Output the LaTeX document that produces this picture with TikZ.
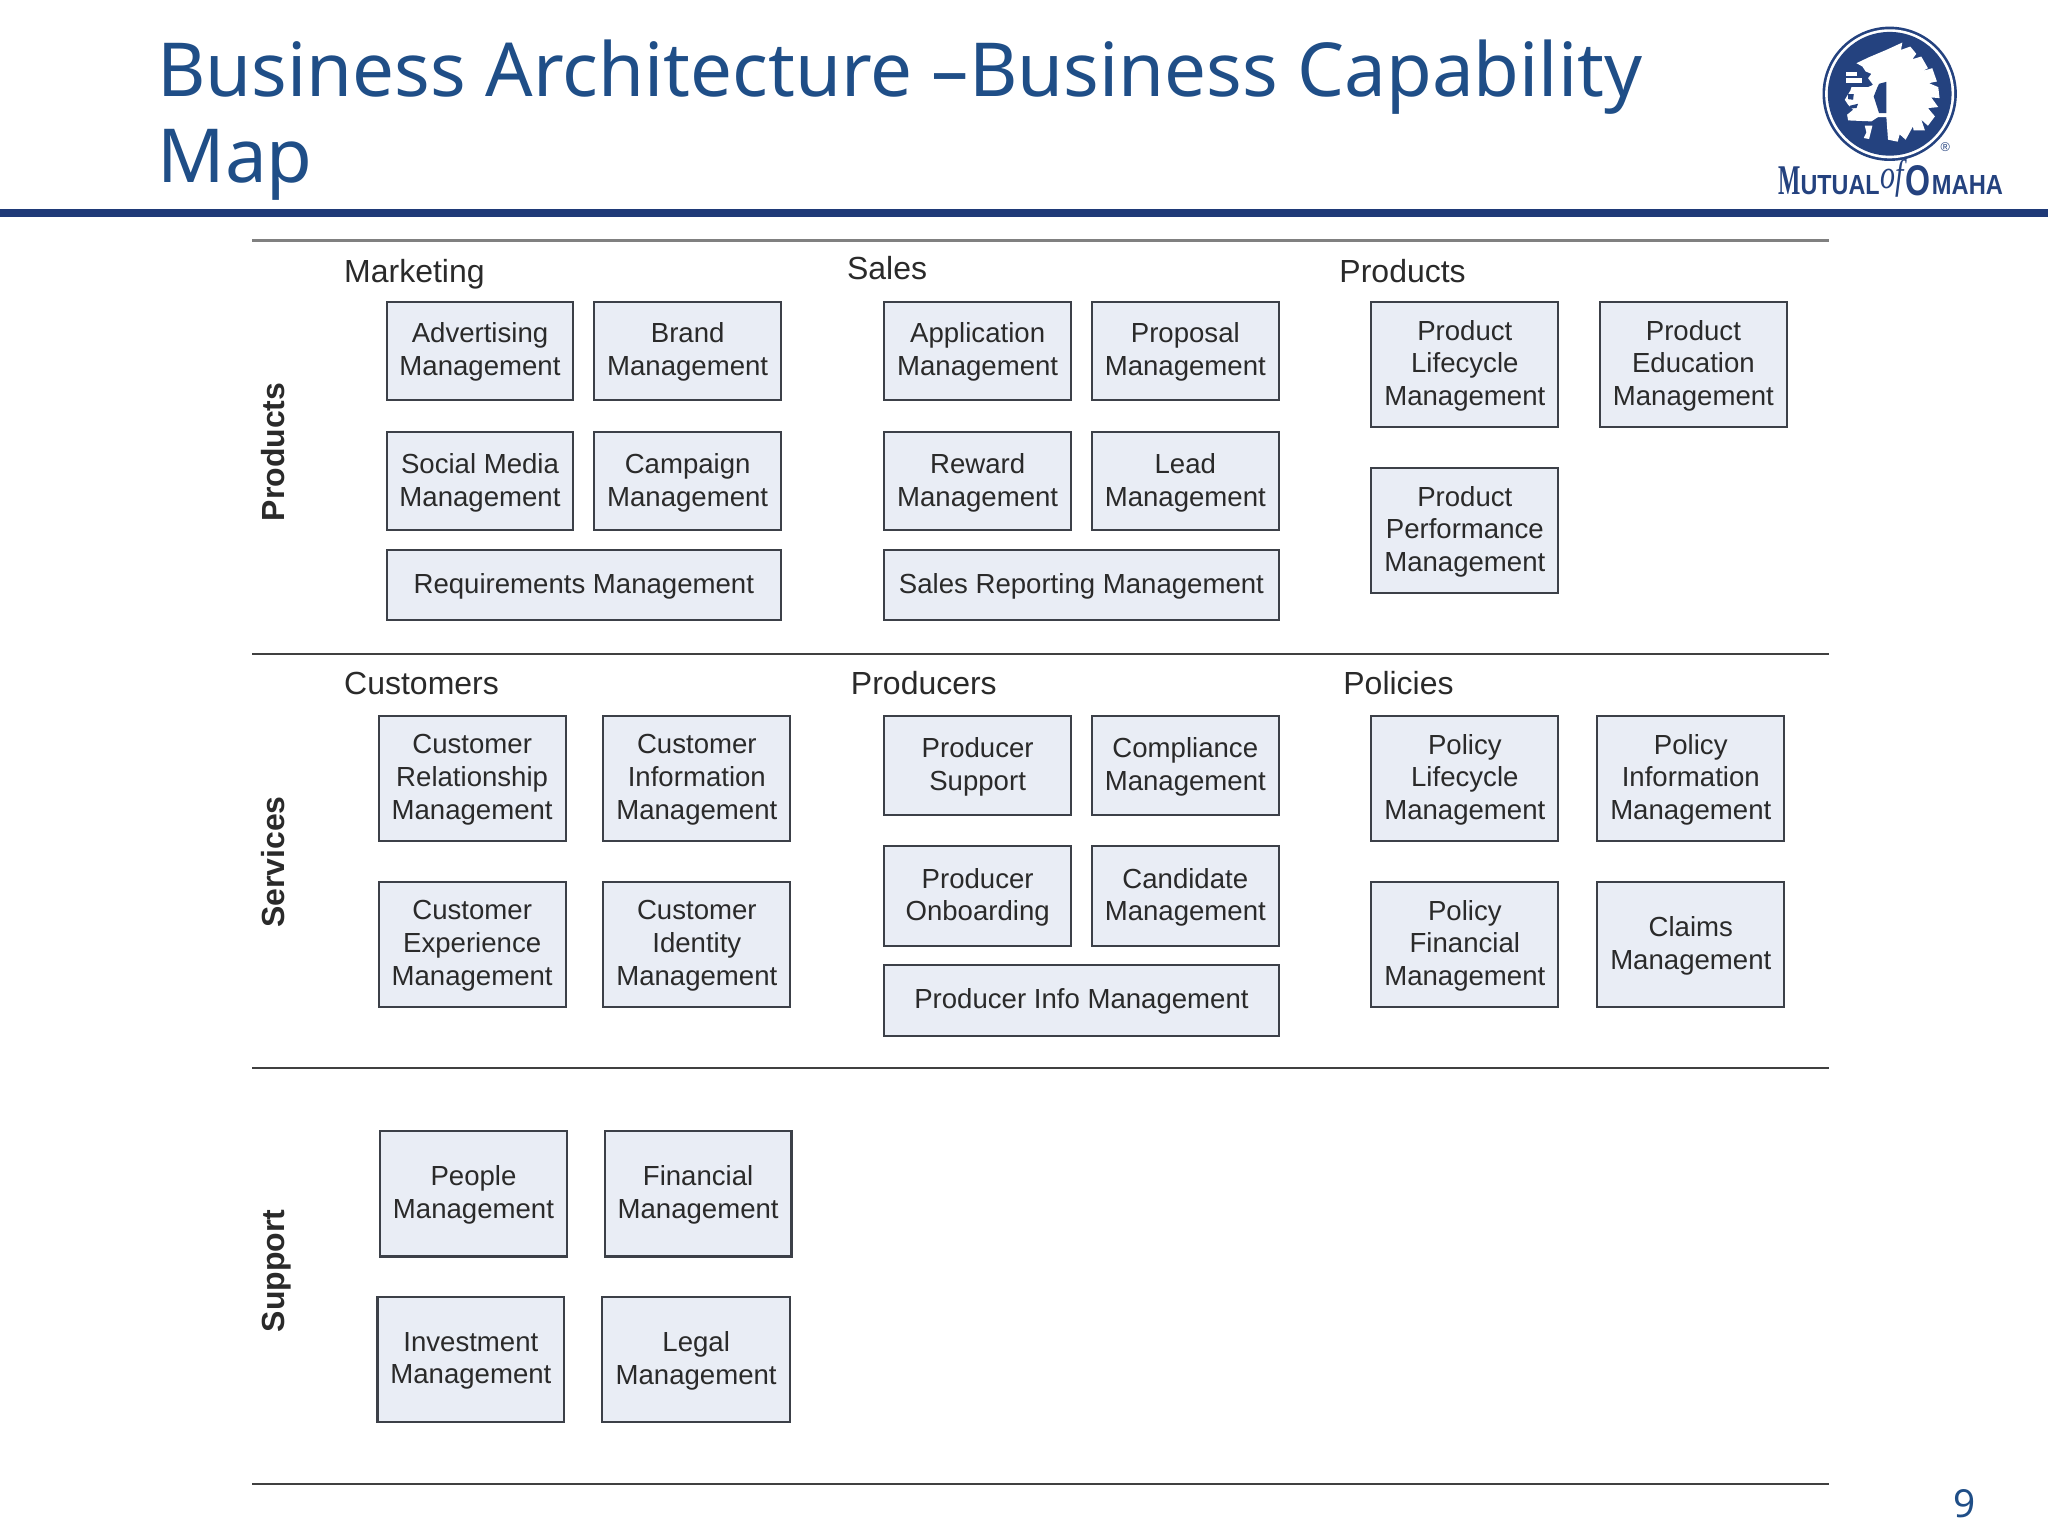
\documentclass[tikz,border=0pt]{standalone}
\usepackage{fontspec}
\usepackage{graphicx}
\setmainfont{Liberation Sans}
\newfontfamily\titlefont{Noto Sans}
\newfontfamily\logofont{Liberation Serif}
\definecolor{titleblue}{HTML}{1F4E87}
\definecolor{ruleblue}{HTML}{1F3A78}
\definecolor{logoblue}{HTML}{24427F}
\definecolor{boxfill}{HTML}{E9EDF5}
\definecolor{boxline}{HTML}{3C4048}
\definecolor{txt}{HTML}{2A2A2A}
\tikzset{
  capbox/.style={preaction={draw=boxline,fill=boxfill,line width=0.6pt,transform canvas={yshift=0.3713pt}},
    inner sep=0pt,align=center,font=\fontsize{7.85}{9.3}\selectfont,text=txt},
  grouplabel/.style={anchor=base west,inner sep=0pt,font=\fontsize{9.1}{11}\selectfont,text=txt},
  sidelabel/.style={rotate=90,anchor=base,inner sep=0pt,font=\fontsize{9.1}{11}\selectfont\bfseries,text=txt},
  sep/.style={line width=0.6pt,draw=black!75},
  logotext/.style={anchor=south west,inner sep=0pt,text=logoblue},
}
\newcommand\bx[6]{%
  \pgfmathsetmacro\bw{(#4-#2)*0.013061}%
  \pgfmathsetmacro\bh{(#5-#3)*0.013061}%
  \node[capbox,minimum width=\bw cm,minimum height=\bh cm] (#1) at ({(#2+#4)/2},{(#3+#5)/2+1}) {#6};}
\begin{document}
\begin{tikzpicture}[x=0.013061cm,y=-0.013061cm]
\useasboundingbox (0,0) rectangle (1568,1176);
\fill[white] (0,0) rectangle (1568,1176);
% title
\node[anchor=base west,inner sep=0pt,align=left,text=titleblue,
  font=\titlefont\fontsize{21.2}{24.5}\selectfont] (title) at (120,140) {Business Architecture –Business Capability\\Map};
\fill[ruleblue] (0,160) rectangle (1568,166);
% separators
\coordinate (s1a) at (193,184); \coordinate (s1b) at (1400,184);
\coordinate (s2a) at (193,501); \coordinate (s2b) at (1400,501);
\coordinate (s3a) at (193,818); \coordinate (s3b) at (1400,818);
\coordinate (s4a) at (193,1136); \coordinate (s4b) at (1400,1136);
\draw[line width=0.9pt,draw=black!50] (s1a) -- (s1b);
\draw[sep] (s2a) -- (s2b);
\draw[sep] (s3a) -- (s3b);
\draw[sep] (s4a) -- (s4b);
% side labels
\node[sidelabel] (lp) at (218,346) {Products};
\node[sidelabel] (ls) at (218,660) {Services};
\node[sidelabel] (lu) at (218,973) {Support};
% group labels
\node[grouplabel] (g1) at (263,216) {Marketing};
\node[grouplabel] (g2) at (648,214) {Sales};
\node[grouplabel] (g3) at (1025,216) {Products};
\node[grouplabel] (g4) at (263,532) {Customers};
\node[grouplabel] (g5) at (651,532) {Producers};
\node[grouplabel] (g6) at (1028,532) {Policies};
% Marketing
\bx{a1}{296}{231}{439}{306}{Advertising\\Management}
\bx{a2}{455}{231}{598}{306}{Brand\\Management}
\bx{a3}{296}{331}{439}{406}{Social Media\\Management}
\bx{a4}{455}{331}{598}{406}{Campaign\\Management}
\bx{a5}{296}{421}{598}{475}{Requirements Management}
% Sales
\bx{b1}{677}{231}{820}{306}{Application\\Management}
\bx{b2}{836}{231}{979}{306}{Proposal\\Management}
\bx{b3}{677}{331}{820}{406}{Reward\\Management}
\bx{b4}{836}{331}{979}{406}{Lead\\Management}
\bx{b5}{677}{421}{979}{475}{Sales Reporting Management}
% Products
\bx{c1}{1050}{231}{1193}{327}{Product\\Lifecycle\\Management}
\bx{c2}{1225}{231}{1368}{327}{Product\\Education\\Management}
\bx{c3}{1050}{358}{1193}{454}{Product\\Performance\\Management}
% Customers
\bx{d1}{290}{548}{433}{644}{Customer\\Relationship\\Management}
\bx{d2}{462}{548}{605}{644}{Customer\\Information\\Management}
\bx{d3}{290}{675}{433}{771}{Customer\\Experience\\Management}
\bx{d4}{462}{675}{605}{771}{Customer\\Identity\\Management}
% Producers
\bx{e1}{677}{548}{820}{624}{Producer\\Support}
\bx{e2}{836}{548}{979}{624}{Compliance\\Management}
\bx{e3}{677}{648}{820}{724}{Producer\\Onboarding}
\bx{e4}{836}{648}{979}{724}{Candidate\\Management}
\bx{e5}{677}{739}{979}{793}{Producer Info Management}
% Policies
\bx{f1}{1050}{548}{1193}{644}{Policy\\Lifecycle\\Management}
\bx{f2}{1223}{548}{1366}{644}{Policy\\Information\\Management}
\bx{f3}{1050}{675}{1193}{771}{Policy\\Financial\\Management}
\bx{f4}{1223}{675}{1366}{771}{Claims\\Management}
% Support
\bx{h1}{291}{866}{434}{962}{People\\Management}
\bx{h2}{463}{866}{606}{962}{Financial\\Management}
\bx{h3}{289}{993}{432}{1089}{Investment\\Management}
\bx{h4}{461}{993}{605}{1089}{Legal\\Management}
% page number
\node[inner sep=0pt,text=titleblue,font=\titlefont\fontsize{11}{13}\selectfont] (pg) at (1504,1151) {9};
% logo (in zoom-crop coordinates)
\begin{scope}[shift={(1332.2,0)},x=0.0033333cm,y=-0.0033333cm]
 \fill[logoblue] (450,282) circle[radius=202*0.0033333cm];
 \fill[white] (450,282) circle[radius=194*0.0033333cm];
 \fill[logoblue] (450,282) circle[radius=186*0.0033333cm];
 \fill[white] (350,190) -- (388,172) -- (440,150) -- (488,128) -- (484,150) -- (512,140) -- (530,162) -- (518,178)
   -- (545,170) -- (565,205) -- (550,213) -- (578,205) -- (592,245) -- (568,250) -- (596,262) -- (600,295) -- (575,293)
   -- (596,322) -- (565,325) -- (586,350) -- (565,378) -- (545,360) -- (556,392) -- (522,392) -- (520,380) -- (498,420)
   -- (480,404) -- (474,426) -- (445,420) -- (440,352) -- (415,352) -- (395,365) -- (325,362) -- (322,345) -- (340,330)
   -- (325,315) -- (315,300) -- (332,272) -- (335,262) -- (385,262) -- (400,255) -- (385,235) -- (395,222) -- (378,215) -- (368,200) -- cycle;
 \fill[logoblue] (418,252) -- (440,246) -- (440,340) -- (418,340) -- (402,290) -- (412,265) -- cycle;
 \fill[white] (318,215) rectangle (352,228);
 \fill[white] (318,235) rectangle (366,250);
 \fill[logoblue] (318,250) rectangle (380,262);
 \fill[logoblue] (325,283) -- (342,283) -- (340,300) -- (325,298) -- cycle;
 \fill[logoblue] (330,318) -- (355,312) -- (350,325) -- (332,326) -- cycle;
 \fill[white] (375,378) -- (398,378) -- (388,418) -- (372,415) -- (380,398) -- cycle;
 \node[inner sep=0pt,text=logoblue,font=\fontsize{3.6}{4}\selectfont] (lgr) at (617,442) {®};
 \node[logotext,font=\logofont\bfseries] (lg1) at (113,588) {\resizebox{0.223cm}{0.277cm}{M}};
 \node[logotext,font=\bfseries] (lg1b) at (180,588) {\resizebox{0.79cm}{0.19cm}{UTUAL}};
 \node[logotext,font=\logofont\itshape] (lg2) at (420,596) {\resizebox{0.233cm}{0.29cm}{of}};
 \node[logotext,font=\bfseries] (lg3) at (495,590) {\resizebox{0.25cm}{0.30cm}{O}};
 \node[logotext,font=\bfseries] (lg3b) at (575,588) {\resizebox{0.71cm}{0.19cm}{MAHA}};
\end{scope}
\end{tikzpicture}
\end{document}
